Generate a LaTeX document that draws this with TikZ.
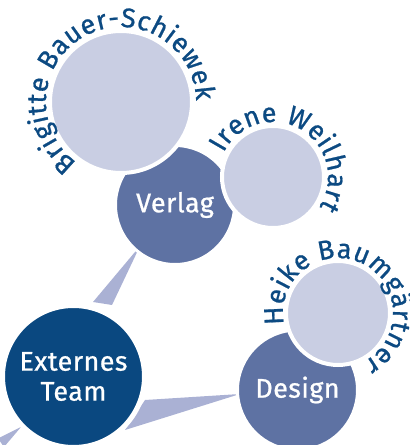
\documentclass[tikz,border=0pt]{standalone}
\usepackage{fontspec}
\setmainfont{Fira Sans}
\newfontfamily\lblfam[LetterSpace=1.5,FakeBold=0.8]{Fira Sans}
\newfontfamily\nmfam[FakeBold=0.8]{Fira Sans}
\usetikzlibrary{decorations.text,calc}
\definecolor{lightc}{RGB}{201,206,227}
\definecolor{midc}{RGB}{94,114,163}
\definecolor{darkc}{RGB}{10,72,128}
\definecolor{wedgec}{RGB}{170,177,212}
\definecolor{namec}{RGB}{12,74,130}
\newcommand\nmfont{\nmfam\fontsize{27}{30}\selectfont}
\begin{document}
\begin{tikzpicture}[x=1pt,y=1pt,
  bubble/.style={circle, inner sep=0pt, draw=white},
  person/.style={bubble, fill=lightc, line width=4pt},
  team/.style={bubble, fill=midc, line width=3pt, text=white, font=\lblfam\fontsize{27}{30}\selectfont},
  hub/.style={bubble, fill=darkc, line width=5pt, text=white, align=center, font=\lblfam\fontsize{27}{30}\selectfont},
  wedge/.style={fill=wedgec},
  namearc/.style={decorate, decoration={text along path, text align={fit to path}, text color=namec, text={|\nmfont|#1}}}
]
\useasboundingbox (0,0) rectangle (410,445);
\clip (0,0) rectangle (410,445);
% centres
\coordinate (cB) at (121,343);
\coordinate (cV) at (175,240);
\coordinate (cI) at (273,268);
\coordinate (cE) at (73.5,68.5);
\coordinate (cD) at (297.5,55);
\coordinate (cH) at (338,132);
% wedges
\fill[wedge] ($(cV)+(-35,-41)$) -- ($(cE)+(38.5,71.5)$) -- ($(cE)+(19.5,74.5)$) -- cycle;
\fill[wedge] ($(cD)+(-57.5,-4)$) -- ($(cE)+(71.5,-23.5)$) -- ($(cE)+(51.5,-53.5)$) -- cycle;
\fill[wedge] ($(cE)+(-52.5,-50.5)$) -- ($(cE)+(-75.5,-62)$) -- ($(cE)+(-69.5,-70.5)$) -- cycle;
% team circles
\node[team, minimum size=119pt] (V) at (cV) {Verlag};
\node[team, minimum size=120pt] (D) at (cD) {Design};
\node[hub, minimum size=142pt] (E) at (cE) {Externes\\Team};
% person circles
\node[person, minimum size=142pt] (B) at (cB) {};
\node[person, minimum size=102pt] (I) at (cI) {};
\node[person, minimum size=104pt] (H) at (cH) {};
% names
\path[namearc={Brigitte Bauer-Schiewek}] ($(cB)+(234:75)$) arc[start angle=234, end angle=1, radius=75];
\path[namearc={Irene Weilhart}] ($(cI)+(154:55)$) arc[start angle=154, end angle=-33, radius=55];
\path[namearc={Heike Baumg{ä}rtner}] ($(cH)+(192:55)$) arc[start angle=192, end angle=-62, radius=55];
\end{tikzpicture}
\end{document}
